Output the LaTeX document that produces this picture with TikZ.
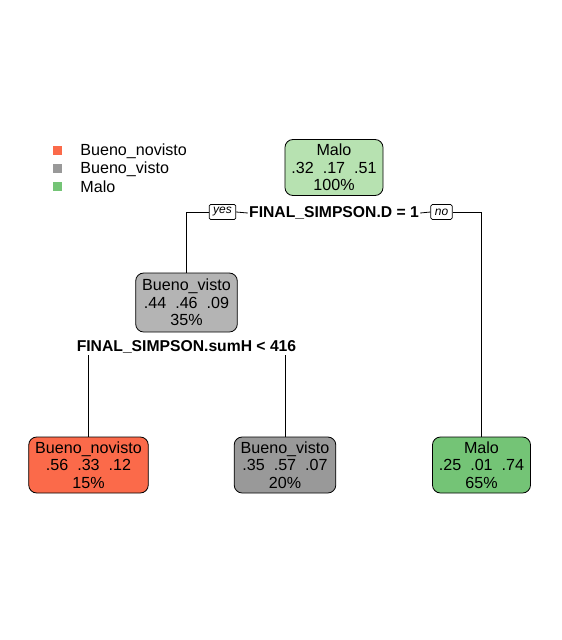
\documentclass[tikz,border=0pt]{standalone}
\usepackage{fontspec}
\setmainfont{Liberation Sans}
\usepackage{tikz}
\usetikzlibrary{positioning}

\definecolor{rednode}{HTML}{FB6A4A}
\definecolor{greynode}{HTML}{999999}
\definecolor{greennode}{HTML}{74C476}
\definecolor{lightgreen}{HTML}{B7E2B1}
\definecolor{lightgrey}{HTML}{B4B4B4}

\begin{document}
\begin{tikzpicture}[
  x=1pt, y=-1pt, line width=0.8pt,
  every node/.style={font=\fontsize{16.1}{17.3}\selectfont},
  leafbox/.style={draw, rounded corners=8pt, align=center, inner xsep=6.5pt, inner ysep=2pt, minimum height=56pt},
  splitlabel/.style={font=\fontsize{15.7}{17.3}\selectfont\bfseries, inner sep=1pt},
  answer/.style={draw, line width=0.7pt, rounded corners=1.5pt, font=\fontsize{12}{12}\selectfont\itshape, inner xsep=4pt, inner ysep=1.5pt, minimum height=15pt, fill=white},
  keybox/.style={minimum size=9pt, inner sep=0pt},
  keytext/.style={anchor=west, inner sep=0pt}
]
  \useasboundingbox (0,0) rectangle (562,640);

  % legend
  \node[keybox, fill=rednode] (k1) at (57,150) {};
  \node[keybox, fill=greynode] (k2) at (57,168) {};
  \node[keybox, fill=greennode] (k3) at (57,186) {};
  \node[keytext] (t1) at (80,151) {Bueno\_novisto};
  \node[keytext] (t2) at (80,169) {Bueno\_visto};
  \node[keytext] (t3) at (80,187) {Malo};

  % tree
  \node[leafbox, fill=lightgreen] (root) at (334,167.5) {Malo\\.32\ \ .17\ \ .51\\100\%};
  \node[splitlabel] (split1) at (334,213) {FINAL\_SIMPSON.D = 1};
  \node[answer] (yes) at (222.5,212) {yes};
  \node[answer] (no) at (441.5,212) {no};

  \node[leafbox, fill=lightgrey, minimum height=59pt] (mid) at (186.5,302.5) {Bueno\_visto\\.44\ \ .46\ \ .09\\35\%};
  \node[splitlabel] (split2) at (186.5,347) {FINAL\_SIMPSON.sumH < 416};

  \node[leafbox, fill=rednode] (leafa) at (88.5,465) {Bueno\_novisto\\.56\ \ .33\ \ .12\\15\%};
  \node[leafbox, fill=greynode] (leafb) at (285,465) {Bueno\_visto\\.35\ \ .57\ \ .07\\20\%};
  \node[leafbox, fill=greennode] (leafc) at (481.5,465) {Malo\\.25\ \ .01\ \ .74\\65\%};

  \draw (mid.north) |- (yes.west);
  \draw (yes.east) -- (split1.west);
  \draw (split1.east) -- (no.west);
  \draw (leafc.north) |- (no.east);
  \draw (leafa.north) -- (leafa.north |- split2.south);
  \draw (leafb.north) -- (leafb.north |- split2.south);
\end{tikzpicture}
\end{document}
